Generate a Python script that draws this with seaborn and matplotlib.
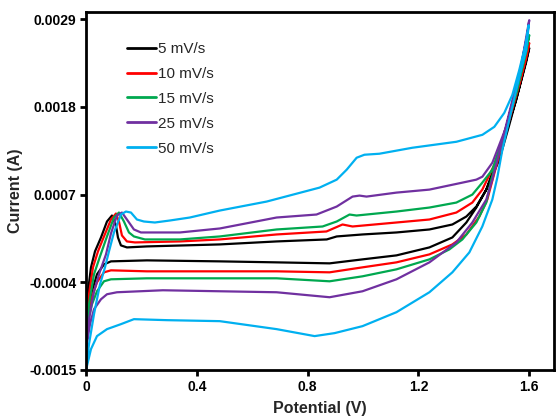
import numpy as np
import pandas as pd
import matplotlib
matplotlib.use("Agg")
import matplotlib.pyplot as plt
import seaborn as sns

# ---- data (potential in V, current in mA -> converted to A) ----
rates = ["5 mV/s", "10 mV/s", "15 mV/s", "25 mV/s", "50 mV/s"]
colors = ["#000000", "#ff0000", "#00a84f", "#7030a0", "#00b0f0"]

potential_5 = [0, 0.0072, 0.018, 0.0324, 0.0541, 0.0757, 0.0937, 0.1081, 0.1153, 0.1261, 0.1477, 0.220,
               0.483, 0.688, 0.869, 0.905, 0.9982, 1.1207, 1.2396, 1.3225, 1.373, 1.409, 1.445,
               1.492, 1.553, 1.600,
               1.589, 1.564, 1.528, 1.492, 1.445, 1.409, 1.373, 1.3225, 1.2396, 1.1207, 0.9982, 0.8793,
               0.688, 0.483, 0.220, 0.0901, 0.0649, 0.0396, 0.0216, 0.0072, 0]
current_5 = [-0.9, -0.5125, -0.2125, -0.0125, 0.1625, 0.3625, 0.4375, 0.3125, 0.1625, 0.0625, 0.0375, 0.05,
             0.075, 0.1125, 0.1375, 0.175, 0.2, 0.225, 0.2625, 0.325, 0.425, 0.55, 0.7625,
             1.225, 1.8875, 2.5375,
             2.3625, 2.0375, 1.575, 1.1375, 0.7625, 0.5375, 0.35, 0.1625, 0.0375, -0.0625, -0.1125, -0.1625,
             -0.15, -0.1375, -0.125, -0.1375, -0.175, -0.3, -0.5125, -0.7375, -0.9]

potential_10 = [0, 0.0108, 0.0252, 0.0432, 0.0649, 0.0901, 0.1081, 0.1189, 0.1297, 0.1477, 0.1766, 0.339,
                0.483, 0.688, 0.868, 0.926, 0.9622, 1.1207, 1.2396, 1.3369, 1.3946, 1.4306,
                1.474, 1.528, 1.571, 1.600,
                1.589, 1.564, 1.528, 1.492, 1.463, 1.4486, 1.4198, 1.373, 1.3225, 1.2396, 1.1207, 0.9982,
                0.8793, 0.688, 0.483, 0.220, 0.0901, 0.0649, 0.0396, 0.0216, 0.0072, 0]
current_10 = [-0.9875, -0.55, -0.2125, -0.0125, 0.175, 0.3875, 0.4625, 0.3625, 0.1875, 0.1125, 0.1, 0.1125,
              0.1375, 0.2, 0.2375, 0.325, 0.3, 0.35, 0.3875, 0.475, 0.6, 0.7625,
              1.075, 1.6625, 2.2, 2.6,
              2.4125, 2.075, 1.6375, 1.2, 0.825, 0.6375, 0.425, 0.2, 0.075, -0.05, -0.15, -0.2125,
              -0.275, -0.2625, -0.2625, -0.2625, -0.25, -0.275, -0.4, -0.5875, -0.8, -0.9875]

potential_15 = [0, 0.0108, 0.0288, 0.0505, 0.0757, 0.1009, 0.1189, 0.1369, 0.1550, 0.1730, 0.2126, 0.339,
                0.483, 0.688, 0.854, 0.905, 0.9514, 0.9766, 1.1207, 1.2396, 1.3369, 1.3946, 1.4306,
                1.467, 1.510, 1.557, 1.600,
                1.589, 1.564, 1.528, 1.492, 1.463, 1.445, 1.409, 1.3586, 1.3117, 1.2396, 1.1207, 0.9982,
                0.8793, 0.688, 0.483, 0.220, 0.0901, 0.0649, 0.0396, 0.0216, 0.0072, 0]
current_15 = [-1.075, -0.675, -0.3, -0.075, 0.175, 0.4125, 0.475, 0.3625, 0.225, 0.175, 0.1375, 0.1375,
              0.175, 0.2625, 0.3, 0.3625, 0.45, 0.4375, 0.4875, 0.5375, 0.6, 0.7, 0.85,
              1.0125, 1.45, 2.0125, 2.7,
              2.4875, 2.1375, 1.675, 1.2375, 0.8875, 0.6, 0.35, 0.1375, 0.0125, -0.1125, -0.2375, -0.325,
              -0.3875, -0.35, -0.35, -0.35, -0.3625, -0.3875, -0.5125, -0.675, -0.8875, -1.075]

potential_25 = [0, 0.0108, 0.0288, 0.0505, 0.0721, 0.0901, 0.1117, 0.1297, 0.1477, 0.1730, 0.1982, 0.339,
                0.483, 0.688, 0.832, 0.905, 0.9622, 0.9874, 1.0126, 1.1207, 1.2396, 1.3586, 1.409, 1.431,
                1.467, 1.517, 1.564, 1.600,
                1.593, 1.571, 1.535, 1.499, 1.4667, 1.445, 1.3946, 1.3369, 1.2396, 1.1207, 0.9982, 0.8793,
                0.688, 0.483, 0.2775, 0.1117, 0.0757, 0.0541, 0.0288, 0.0144, 0]
current_25 = [-1.2375, -0.8625, -0.5125, -0.2625, -0.05, 0.2125, 0.4375, 0.475, 0.3875, 0.2625, 0.225,
              0.225, 0.275, 0.4125, 0.45, 0.55, 0.675, 0.6875, 0.675, 0.725, 0.7625, 0.85, 0.8875, 0.925,
              1.1, 1.55, 2.175, 2.8875,
              2.7, 2.325, 1.825, 1.325, 0.8875, 0.6375, 0.35, 0.1, -0.15, -0.3625, -0.5125, -0.5875,
              -0.525, -0.5125, -0.5, -0.525, -0.55, -0.6125, -0.7375, -0.925, -1.2375]

potential_50 = [0, 0.0108, 0.0288, 0.0505, 0.0685, 0.0829, 0.1009, 0.1261, 0.1441, 0.1622, 0.1838, 0.2090,
                0.2486, 0.3027, 0.3748, 0.483, 0.652, 0.843, 0.905, 0.941, 0.977, 1.005, 1.059, 1.178, 1.337,
                1.431, 1.474, 1.510, 1.539, 1.564, 1.586, 1.598,
                1.589, 1.575, 1.553, 1.528, 1.503, 1.4847, 1.4667, 1.4306, 1.3838, 1.3225, 1.2396, 1.1207,
                0.9982, 0.8973, 0.8252, 0.688, 0.483, 0.292, 0.173, 0.1261, 0.0757, 0.0396, 0.018, 0]
current_50 = [-1.5, -1.175, -0.8, -0.425, -0.2125, -0.0125, 0.225, 0.45, 0.4875, 0.475, 0.3875, 0.3625,
              0.35, 0.375, 0.4125, 0.5, 0.6125, 0.7875, 0.8875, 1.0125, 1.1625, 1.2, 1.2125, 1.2875, 1.3625,
              1.45, 1.55, 1.725, 1.95, 2.2625, 2.575, 2.825,
              2.5125, 2.325, 2.0125, 1.6375, 1.2625, 0.9125, 0.6375, 0.3, -0.025, -0.275, -0.525, -0.775,
              -0.95, -1.0375, -1.075, -0.9875, -0.8875, -0.875, -0.8625, -0.925, -0.9875, -1.075,
              -1.2375, -1.5]

xticks = [0, 0.4, 0.8, 1.2, 1.6]
xtick_labels = ["0", "0.4", "0.8", "1.2", "1.6"]
yticks = [-0.0015, -0.0004, 0.0007, 0.0018, 0.0029]
ytick_labels = ["-0.0015", "-0.0004", "0.0007", "0.0018", "0.0029"]

pots = [potential_5, potential_10, potential_15, potential_25, potential_50]
curs = [current_5, current_10, current_15, current_25, current_50]
frames = []
for r, p, c in zip(rates, pots, curs):
    frames.append(pd.DataFrame({"Potential": p, "Current": np.array(c) * 1e-3, "rate": r}))
df = pd.concat(frames, ignore_index=True)

sns.set_theme(style="ticks")
plt.rcParams["font.family"] = ["Liberation Sans", "DejaVu Sans"]

fig = plt.figure(figsize=(5.56, 4.16), dpi=100)
ax = fig.add_axes([0.1547, 0.1106, 0.842, 0.8605])

sns.lineplot(data=df, x="Potential", y="Current", hue="rate", hue_order=rates,
             palette=colors, sort=False, estimator=None, linewidth=1.6, ax=ax)
for ln in ax.get_lines():
    ln.set_solid_joinstyle("round")

ax.set_xlim(0, 1.69)
ax.set_ylim(-0.0015, 0.00299)
ax.set_xticks(xticks)
ax.set_xticklabels(xtick_labels, fontsize=10, fontweight="bold")
ax.set_yticks(yticks)
ax.set_yticklabels(ytick_labels, fontsize=10, fontweight="bold")
ax.set_xlabel("Potential (V)", fontsize=11.5, fontweight="bold", labelpad=5)
ax.set_ylabel("Current (A)", fontsize=11.5, fontweight="bold", labelpad=4)
for s in ax.spines.values():
    s.set_visible(True)
    s.set_linewidth(2)
    s.set_color("black")
ax.tick_params(direction="out", length=4, width=2, colors="black", pad=3)

handles, labels = ax.get_legend_handles_labels()
leg = ax.legend(handles, labels, loc="upper left", bbox_to_anchor=(0.075, 0.933), frameon=False,
                fontsize=11, handlelength=1.9, handletextpad=0.1, labelspacing=0.71,
                borderaxespad=0)
for line in leg.get_lines():
    line.set_linewidth(2)

fig.savefig("out.png", dpi=100)
